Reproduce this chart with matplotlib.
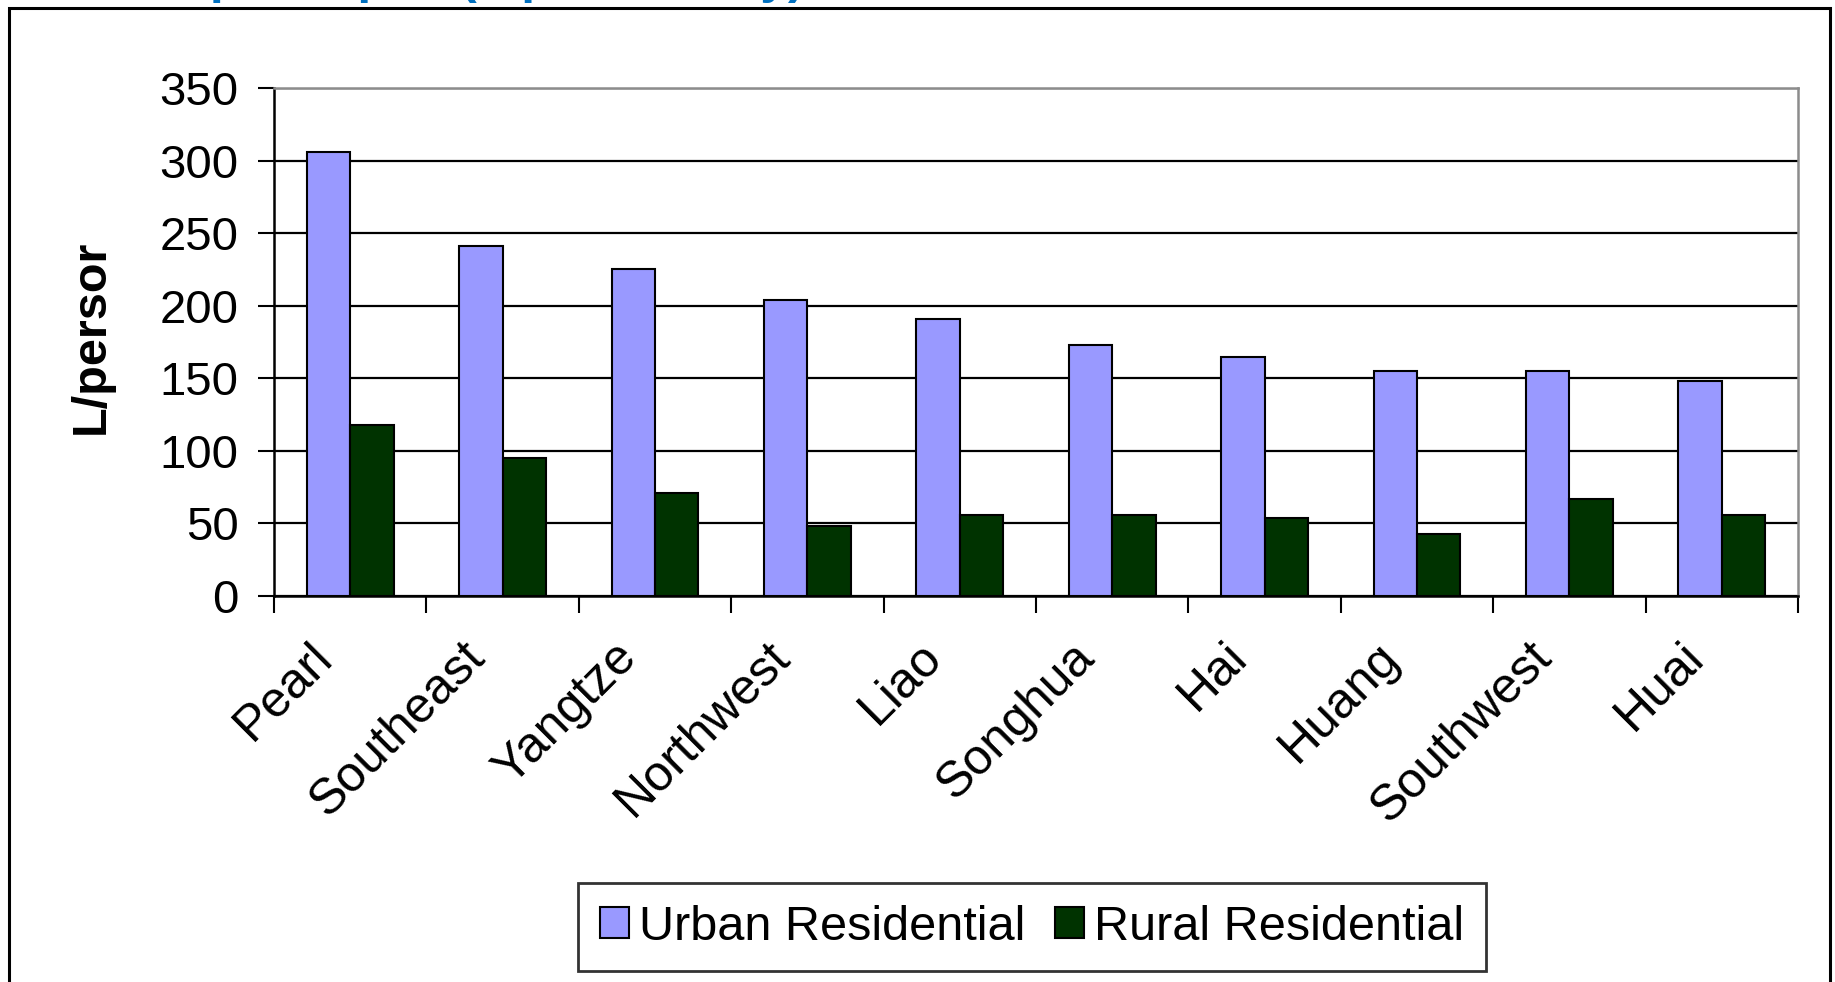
import numpy as np
import matplotlib
matplotlib.use('Agg')
import matplotlib.pyplot as plt
import matplotlib.patches as mpatches
import matplotlib.transforms as mtransforms

plt.rcParams['font.family'] = ['Liberation Sans', 'DejaVu Sans']

# data
regions = ['Pearl', 'Southeast', 'Yangtze', 'Northwest', 'Liao',
           'Songhua', 'Hai', 'Huang', 'Southwest', 'Huai']
urban = [306, 241, 225, 204, 191, 173, 165, 155, 155, 148]
rural = [118, 95, 71, 48, 56, 56, 54, 43, 67, 56]
y_ticks = [0, 50, 100, 150, 200, 250, 300, 350]

W, H = 1835, 982
fig = plt.figure(figsize=(W / 100, H / 100), dpi=100, facecolor='white')
ax = fig.add_axes([274 / W, 1 - 596 / H, (1798 - 274) / W, (596 - 88) / H])

x = np.arange(len(regions)) + 0.5
bw = 0.285
ax.bar(x - bw / 2, urban, width=bw, color='#9999FF', edgecolor='black',
       linewidth=1.5, label='Urban Residential', zorder=3)
ax.bar(x + bw / 2, rural, width=bw, color='#003300', edgecolor='black',
       linewidth=1.5, label='Rural Residential', zorder=3)

ax.set_xlim(0, len(regions))
ax.set_ylim(0, 350)
ax.set_yticks(y_ticks)
ax.set_yticklabels([str(v) for v in y_ticks], fontsize=34)
ax.set_xticks(np.arange(len(regions) + 1))
ax.set_xticklabels([])
ax.tick_params(axis='y', direction='out', length=11.5, width=1.5, pad=14)
ax.tick_params(axis='x', direction='out', length=12, width=1.5)

# horizontal gridlines
ax.set_axisbelow(True)
ax.yaxis.grid(True, color='black', linewidth=1.6)
ax.xaxis.grid(False)

for s in ['left', 'bottom']:
    ax.spines[s].set_color('black')
    ax.spines[s].set_linewidth(1.8)
for s in ['top', 'right']:
    ax.spines[s].set_color('#8c8c8c')
    ax.spines[s].set_linewidth(1.8)

# rotated category labels
offset = mtransforms.ScaledTranslation(-25 / 100, -54 / 100, fig.dpi_scale_trans)
for xi, name in zip(x, regions):
    ax.text(xi, 0, name, transform=ax.get_xaxis_transform() + offset,
            rotation=45, rotation_mode='anchor', ha='right', va='center',
            fontsize=36)

ax.set_ylabel('L/persor', fontsize=35, fontweight='bold')
ax.yaxis.set_label_coords(-0.105, 0.51)

leg = fig.legend(loc='center', bbox_to_anchor=(1032 / W, 1 - 927 / H), ncol=2,
                 fontsize=35, frameon=True, fancybox=False, edgecolor='black',
                 handlelength=0.6, handleheight=0.6, handletextpad=0.2,
                 columnspacing=0.6, borderpad=0.45, borderaxespad=0)
leg.get_frame().set_linewidth(2)

# outer chart border
border = mpatches.Rectangle((9 / W, -0.02), (1830 - 9) / W, 1 - 8 / H + 0.02,
                            transform=fig.transFigure, fill=False,
                            edgecolor='black', linewidth=2.2, clip_on=False)
fig.patches.append(border)

# clipped caption above the chart
fig.text(805 / W, 1 + 7 / H, 'Domestic use per capita (L/person/day)',
         ha='right', va='baseline', fontsize=36, fontweight='bold',
         color='#0070C0')

fig.savefig('out.png', dpi=100, facecolor='white')
